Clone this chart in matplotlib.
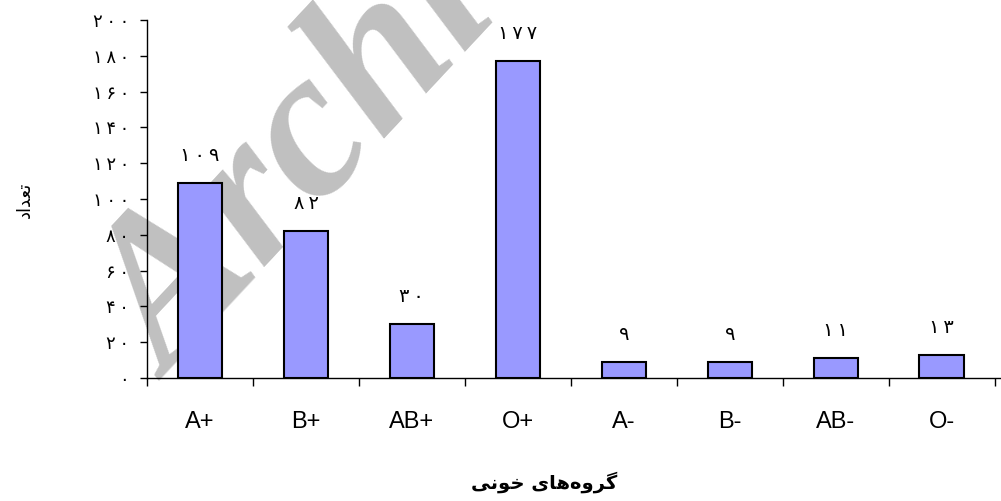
import numpy as np
import matplotlib
matplotlib.use('Agg')
import matplotlib.pyplot as plt

# data
groups = ['A+', 'B+', 'AB+', 'O+', 'A-', 'B-', 'AB-', 'O-']
counts = [109, 82, 30, 177, 9, 9, 11, 13]
yticks = [0, 20, 40, 60, 80, 100, 120, 140, 160, 180, 200]

# persian text, pre-shaped (matplotlib has no arabic shaping)
ylabel_txt = '\uFEA9\uFE8D\uFEAA\uFECC\uFE97'  # تعداد
xlabel_txt = '\uFBFD\uFEE7\uFEEE\uFEA7 \uFBFC\uFE8E\uFEEB\uFEE9\uFEED\uFEAE\uFB94'  # گروه‌های خونی

FA_DIGITS = '۰۱۲۳۴۵۶۷۸۹'


def fa(n):
    return '\u2009'.join(FA_DIGITS[int(c)] for c in str(n))


fig = plt.figure(figsize=(10.01, 5.01), dpi=100)
ax = fig.add_axes([147 / 1001, 1 - 378 / 501, (1000 - 147) / 1001, (378 - 20) / 501])

# watermark behind everything (axes text so ticks/bars draw on top)
ax.text(170 / 1001, 1 - 380 / 501, 'Archive of SID', transform=fig.transFigure,
        rotation=47, rotation_mode='anchor', ha='left', va='baseline',
        fontsize=152, color='#c0c0c0', family='Liberation Serif',
        fontweight='bold', fontstyle='italic', zorder=0, clip_on=False)

x = np.arange(len(groups))
ax.bar(x, counts, width=0.42, color='#9999ff', edgecolor='black', linewidth=1.5, zorder=3)

for xi, v in zip(x, counts):
    ax.annotate(fa(v), (xi, v), xytext=(0, 13), textcoords='offset points',
                ha='center', va='bottom', fontsize=14, family='DejaVu Sans', zorder=4)

ax.set_xlim(-0.5, 7.55)
ax.set_ylim(0, 200)
ax.set_yticks(yticks)
ax.set_yticklabels([fa(t) for t in yticks], family='DejaVu Sans', fontsize=13)
ax.tick_params(axis='y', direction='out', length=5, width=1, pad=8)

ax.set_xticks(np.arange(-0.5, 8, 1.0))
ax.set_xticklabels([])
ax.tick_params(axis='x', which='major', direction='out', length=6, width=1)
ax.set_xticks(x, minor=True)
ax.set_xticklabels(groups, minor=True, family='Liberation Sans', fontsize=17)
ax.tick_params(axis='x', which='minor', length=0, pad=24)

for s in ['top', 'right']:
    ax.spines[s].set_visible(False)
for s in ['left', 'bottom']:
    ax.spines[s].set_linewidth(1)

fig.text(25 / 1001, 1 - 200 / 501, ylabel_txt, rotation=90, ha='center', va='center',
         fontsize=13, family='DejaVu Sans')
fig.text(544 / 1001, 1 - 482 / 501, xlabel_txt, ha='center', va='center',
         fontsize=14, fontweight='bold', family='DejaVu Sans')

fig.savefig('out.png', dpi=100)
